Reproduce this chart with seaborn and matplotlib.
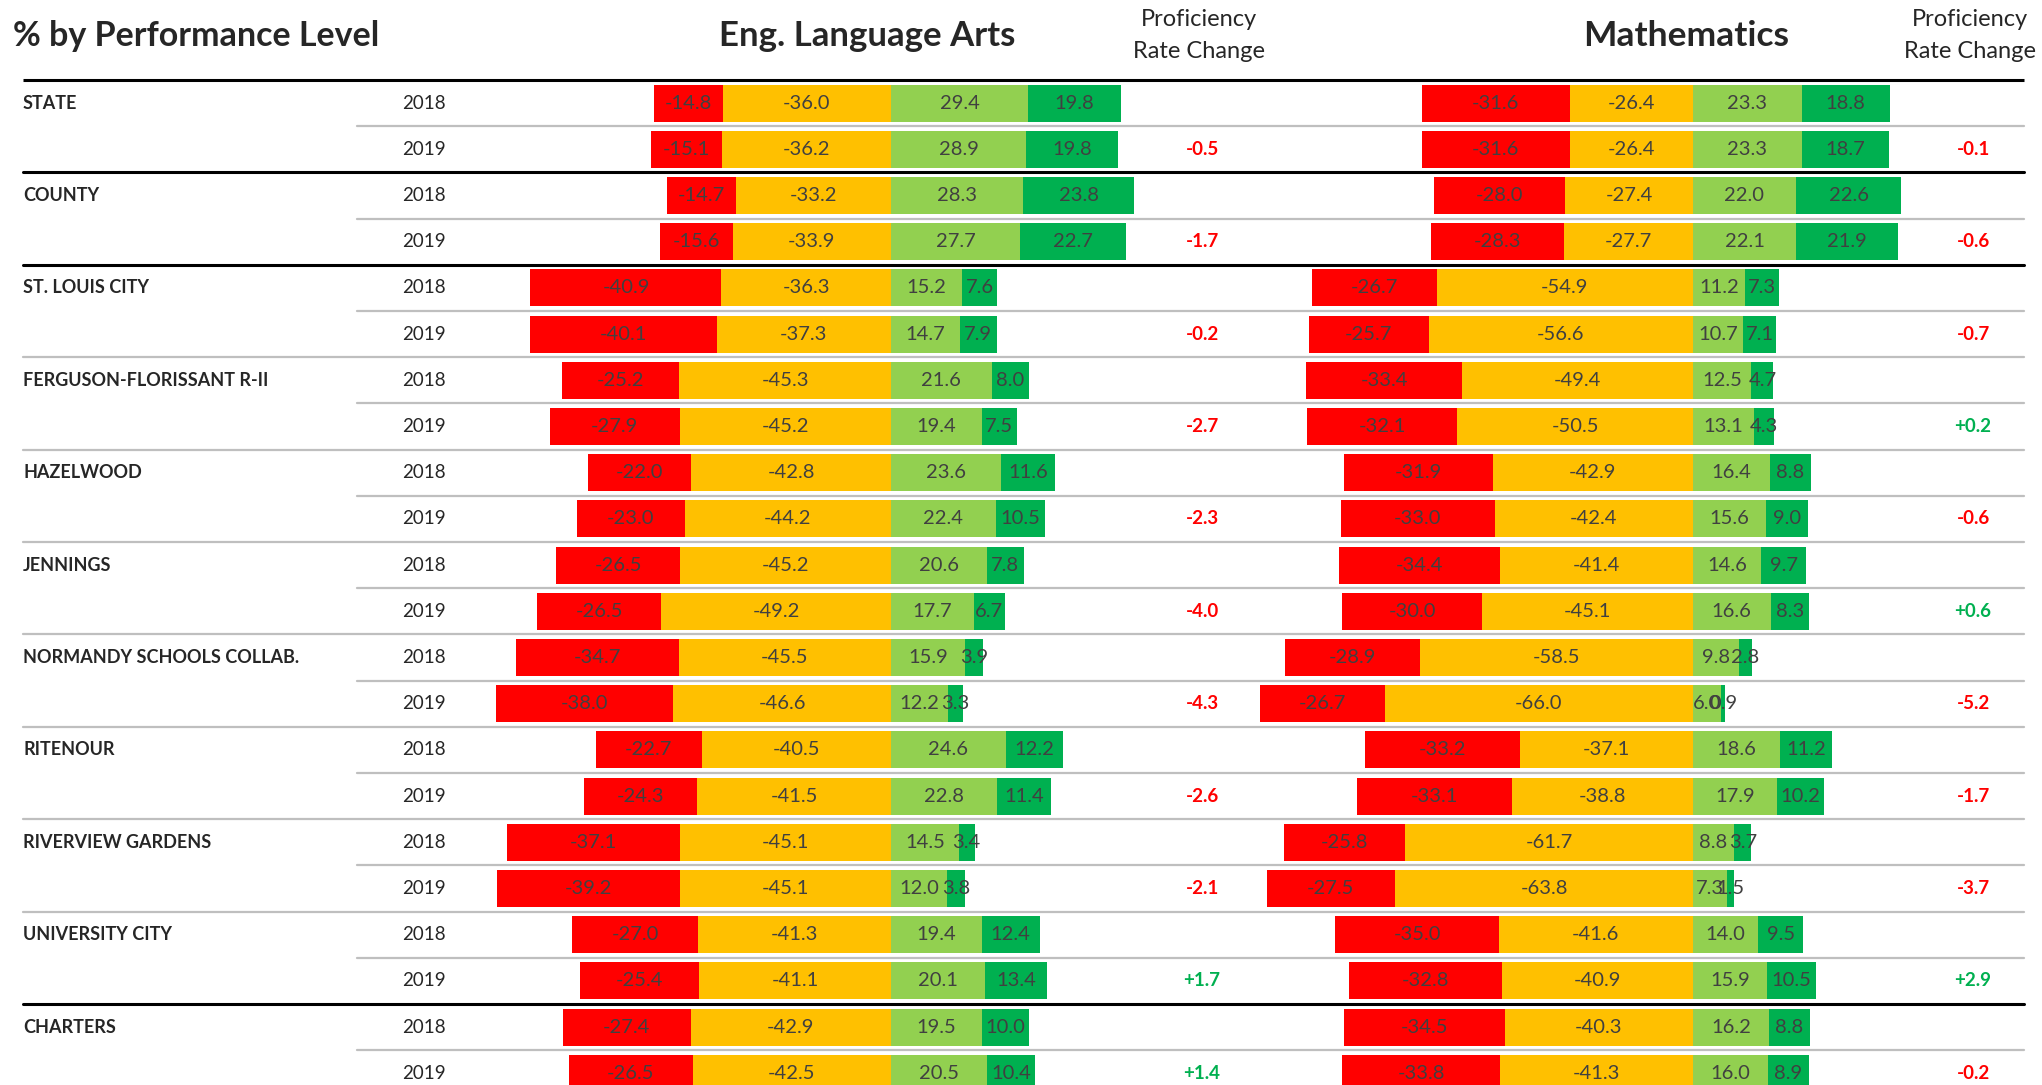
import pandas as pd
import seaborn as sns
import matplotlib.pyplot as plt

groups = ["STATE", "COUNTY", "ST. LOUIS CITY", "FERGUSON-FLORISSANT R-II", "HAZELWOOD",
          "JENNINGS", "NORMANDY SCHOOLS COLLAB.", "RITENOUR", "RIVERVIEW GARDENS",
          "UNIVERSITY CITY", "CHARTERS"]
years = ["2018", "2019"]

# English Language Arts, two rows (2018, 2019) per group
ela_below = [-14.8, -15.1, -14.7, -15.6, -40.9, -40.1, -25.2, -27.9, -22.0, -23.0, -26.5,
             -26.5, -34.7, -38.0, -22.7, -24.3, -37.1, -39.2, -27.0, -25.4, -27.4, -26.5]
ela_basic = [-36.0, -36.2, -33.2, -33.9, -36.3, -37.3, -45.3, -45.2, -42.8, -44.2, -45.2,
             -49.2, -45.5, -46.6, -40.5, -41.5, -45.1, -45.1, -41.3, -41.1, -42.9, -42.5]
ela_prof = [29.4, 28.9, 28.3, 27.7, 15.2, 14.7, 21.6, 19.4, 23.6, 22.4, 20.6,
            17.7, 15.9, 12.2, 24.6, 22.8, 14.5, 12.0, 19.4, 20.1, 19.5, 20.5]
ela_adv = [19.8, 19.8, 23.8, 22.7, 7.6, 7.9, 8.0, 7.5, 11.6, 10.5, 7.8,
           6.7, 3.9, 3.3, 12.2, 11.4, 3.4, 3.8, 12.4, 13.4, 10.0, 10.4]
ela_change = [-0.5, -1.7, -0.2, -2.7, -2.3, -4.0, -4.3, -2.6, -2.1, 1.7, 1.4]

# Mathematics
math_below = [-31.6, -31.6, -28.0, -28.3, -26.7, -25.7, -33.4, -32.1, -31.9, -33.0, -34.4,
              -30.0, -28.9, -26.7, -33.2, -33.1, -25.8, -27.5, -35.0, -32.8, -34.5, -33.8]
math_basic = [-26.4, -26.4, -27.4, -27.7, -54.9, -56.6, -49.4, -50.5, -42.9, -42.4, -41.4,
              -45.1, -58.5, -66.0, -37.1, -38.8, -61.7, -63.8, -41.6, -40.9, -40.3, -41.3]
math_prof = [23.3, 23.3, 22.0, 22.1, 11.2, 10.7, 12.5, 13.1, 16.4, 15.6, 14.6,
             16.6, 9.8, 6.0, 18.6, 17.9, 8.8, 7.3, 14.0, 15.9, 16.2, 16.0]
math_adv = [18.8, 18.7, 22.6, 21.9, 7.3, 7.1, 4.7, 4.3, 8.8, 9.0, 9.7,
            8.3, 2.8, 0.9, 11.2, 10.2, 3.7, 1.5, 9.5, 10.5, 8.8, 8.9]
math_change = [-0.1, -0.6, -0.7, 0.2, -0.6, 0.6, -5.2, -1.7, -3.7, 2.9, -0.2]

RED, ORANGE, LIGHT, GREEN = "#FF0000", "#FFC000", "#92D050", "#00B050"
VALUE_COLOR = "#404040"

W, H = 2042, 1085
TOP = 80          # pixel y of the top rule
ROW_H = 46.2      # pixel height of one row
PX_PER_UNIT = 4.67

rows = [f"{g} {y}" for g in groups for y in years]
n = len(rows)

sns.set_theme(style="white")
plt.rcParams["font.family"] = ["Lato", "DejaVu Sans"]

fig = plt.figure(figsize=(W / 100, H / 100), dpi=100)

# background axes in pixel units for rules and text
bg = fig.add_axes([0, 0, 1, 1])
bg.set_xlim(0, W)
bg.set_ylim(H, 0)
bg.axis("off")


def row_px(i):
    return TOP + (i + 0.5) * ROW_H


def make_frame(below, basic, prof, adv):
    df = pd.DataFrame({"row": rows, "below": below, "basic": basic, "prof": prof, "adv": adv})
    df["neg_total"] = df["below"] + df["basic"]
    df["pos_total"] = df["prof"] + df["adv"]
    return df


def draw_subject(df, left_px, right_px, zero_px):
    ax = fig.add_axes([left_px / W, 0, (right_px - left_px) / W, (H - TOP) / H])
    ax.patch.set_alpha(0)
    for col, color in [("neg_total", RED), ("basic", ORANGE), ("pos_total", GREEN), ("prof", LIGHT)]:
        sns.barplot(data=df, x=col, y="row", order=rows, color=color, saturation=1,
                    width=0.8, errorbar=None, orient="h", linewidth=0, ax=ax)
    for i, r in df.iterrows():
        centers = [r["basic"] + r["below"] / 2, r["basic"] / 2, r["prof"] / 2, r["prof"] + r["adv"] / 2]
        vals = [r["below"], r["basic"], r["prof"], r["adv"]]
        for c, v in zip(centers, vals):
            ax.text(c, i, f"{v:.1f}", ha="center", va="center", fontsize=14.5, color=VALUE_COLOR)
    ax.set_xlim((left_px - zero_px) / PX_PER_UNIT, (right_px - zero_px) / PX_PER_UNIT)
    ax.set_ylim((H - TOP) / ROW_H - 0.5, -0.5)
    ax.axis("off")
    return ax


# rules
bg.plot([23, 2024], [TOP, TOP], color="black", lw=2.2, solid_capstyle="butt")
for i in range(n - 1):
    y = TOP + (i + 1) * ROW_H
    if i % 2 == 0:
        bg.plot([357, 2024], [y, y], color="#BFBFBF", lw=1.6)
    elif i in (1, 3, 19):
        bg.plot([23, 2024], [y, y], color="black", lw=2.2)
    else:
        bg.plot([23, 2024], [y, y], color="#BFBFBF", lw=1.6)

ela = make_frame(ela_below, ela_basic, ela_prof, ela_adv)
mth = make_frame(math_below, math_basic, math_prof, math_adv)
draw_subject(ela, 470, 1140, 891)
draw_subject(mth, 1240, 1920, 1693)

# headers
bg.text(13, 36, "% by Performance Level", fontsize=24.5, fontweight="bold", ha="left", va="center")
bg.text(867, 36, "Eng. Language Arts", fontsize=25, fontweight="bold", ha="center", va="center")
bg.text(1686, 36, "Mathematics", fontsize=25.5, fontweight="bold", ha="center", va="center")
for x in (1199, 1970):
    bg.text(x, 20, "Proficiency", fontsize=17, ha="center", va="center")
    bg.text(x, 51, "Rate Change", fontsize=17, ha="center", va="center")

# row labels
for gi, g in enumerate(groups):
    bg.text(23, row_px(2 * gi), g, fontsize=13, fontweight="bold", ha="left", va="center")
    for yi, yr in enumerate(years):
        bg.text(402, row_px(2 * gi + yi), yr, fontsize=13.5, ha="left", va="center")
    for x, ch in ((1202, ela_change[gi]), (1973, math_change[gi])):
        bg.text(x, row_px(2 * gi + 1), f"{ch:+.1f}", fontsize=13.5, fontweight="bold",
                ha="center", va="center", color=GREEN if ch > 0 else RED)

fig.savefig("out.png", dpi=100)
